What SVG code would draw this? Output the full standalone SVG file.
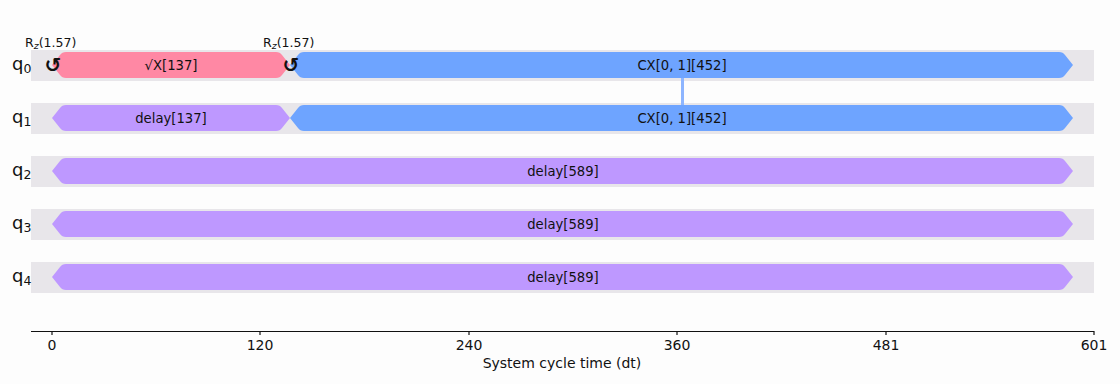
<svg xmlns="http://www.w3.org/2000/svg" width="1120" height="384" viewBox="0 0 1120 384">
<style>
text{font-family:"DejaVu Sans",sans-serif;fill:#111}
.band{fill:#e8e6ea}
.sx{fill:#ff88a4}
.cx{fill:#6ea4ff}
.dl{fill:#be98ff}
.gl{font-size:13.2px;text-anchor:middle}
.ql{font-size:18px}
.qs{font-size:12.5px}
.rz{font-size:12.5px}
.zs{font-size:9.5px;font-style:italic}
.tk{font-size:14px;text-anchor:middle}
.vz{font-size:20px;font-weight:bold;text-anchor:middle}
</style>
<rect width="1120" height="384" fill="#fdfdfd"/>
<g id="bands">
<rect class="band" x="31" y="50" width="1063" height="31"/>
<rect class="band" x="31" y="103" width="1063" height="31"/>
<rect class="band" x="31" y="156" width="1063" height="31"/>
<rect class="band" x="31" y="209" width="1063" height="31"/>
<rect class="band" x="31" y="262" width="1063" height="31"/>
</g>
<g id="labels">
<text class="ql" x="12" y="70">q<tspan class="qs" dy="3">0</tspan></text>
<text class="ql" x="12" y="123">q<tspan class="qs" dy="3">1</tspan></text>
<text class="ql" x="12" y="176">q<tspan class="qs" dy="3">2</tspan></text>
<text class="ql" x="12" y="229">q<tspan class="qs" dy="3">3</tspan></text>
<text class="ql" x="12" y="282">q<tspan class="qs" dy="3">4</tspan></text>
</g>
<g id="connectors">
<line x1="682.5" y1="78" x2="682.5" y2="106" stroke="#8db5ff" stroke-width="3"/>
</g>
<g id="sx_q0">
<path class="sx" d="M52,65 L60,55 Q62,52 66,52 L276,52 Q280,52 282,55 L290,65 L282,75 Q280,78 276,78 L66,78 Q62,78 60,75 Z"/>
<text class="gl" x="171" y="70">√X[137]</text>
</g>
<g id="cx_q0">
<path class="cx" d="M290,65 L298,55 Q300,52 304,52 L1059,52 Q1063,52 1065,55 L1073,65 L1065,75 Q1063,78 1059,78 L304,78 Q300,78 298,75 Z"/>
<text class="gl" x="682" y="70">CX[0, 1][452]</text>
</g>
<g id="delay_q1">
<path class="dl" d="M52,118 L60,108 Q62,105 66,105 L276,105 Q280,105 282,108 L290,118 L282,128 Q280,131 276,131 L66,131 Q62,131 60,128 Z"/>
<text class="gl" x="171" y="123">delay[137]</text>
</g>
<g id="cx_q1">
<path class="cx" d="M290,118 L298,108 Q300,105 304,105 L1059,105 Q1063,105 1065,108 L1073,118 L1065,128 Q1063,131 1059,131 L304,131 Q300,131 298,128 Z"/>
<text class="gl" x="682" y="123">CX[0, 1][452]</text>
</g>
<g id="delay_q2">
<path class="dl" d="M52,171 L60,161 Q62,158 66,158 L1059,158 Q1063,158 1065,161 L1073,171 L1065,181 Q1063,184 1059,184 L66,184 Q62,184 60,181 Z"/>
<text class="gl" x="563" y="176">delay[589]</text>
</g>
<g id="delay_q3">
<path class="dl" d="M52,224 L60,214 Q62,211 66,211 L1059,211 Q1063,211 1065,214 L1073,224 L1065,234 Q1063,237 1059,237 L66,237 Q62,237 60,234 Z"/>
<text class="gl" x="563" y="229">delay[589]</text>
</g>
<g id="delay_q4">
<path class="dl" d="M52,277 L60,267 Q62,264 66,264 L1059,264 Q1063,264 1065,267 L1073,277 L1065,287 Q1063,290 1059,290 L66,290 Q62,290 60,287 Z"/>
<text class="gl" x="563" y="282">delay[589]</text>
</g>
<g id="rz_0">
<text class="vz" x="53" y="72">↺</text>
<text class="rz" x="25" y="47">R<tspan class="zs" dy="2">z</tspan><tspan dy="-2">(1.57)</tspan></text>
</g>
<g id="rz_137">
<text class="vz" x="291" y="72">↺</text>
<text class="rz" x="263" y="47">R<tspan class="zs" dy="2">z</tspan><tspan dy="-2">(1.57)</tspan></text>
</g>
<g id="axis" stroke="#111" stroke-width="1.2">
<line x1="31" y1="331.5" x2="1094" y2="331.5"/>
<line x1="52" y1="331" x2="52" y2="335"/>
<line x1="260" y1="331" x2="260" y2="335"/>
<line x1="469" y1="331" x2="469" y2="335"/>
<line x1="677" y1="331" x2="677" y2="335"/>
<line x1="886" y1="331" x2="886" y2="335"/>
<line x1="1094" y1="331" x2="1094" y2="335"/>
</g>
<g id="ticks">
<text class="tk" x="52" y="350">0</text>
<text class="tk" x="260" y="350">120</text>
<text class="tk" x="469" y="350">240</text>
<text class="tk" x="677" y="350">360</text>
<text class="tk" x="886" y="350">481</text>
<text class="tk" x="1094" y="350">601</text>
<text class="tk" x="562" y="368">System cycle time (dt)</text>
</g>
</svg>
